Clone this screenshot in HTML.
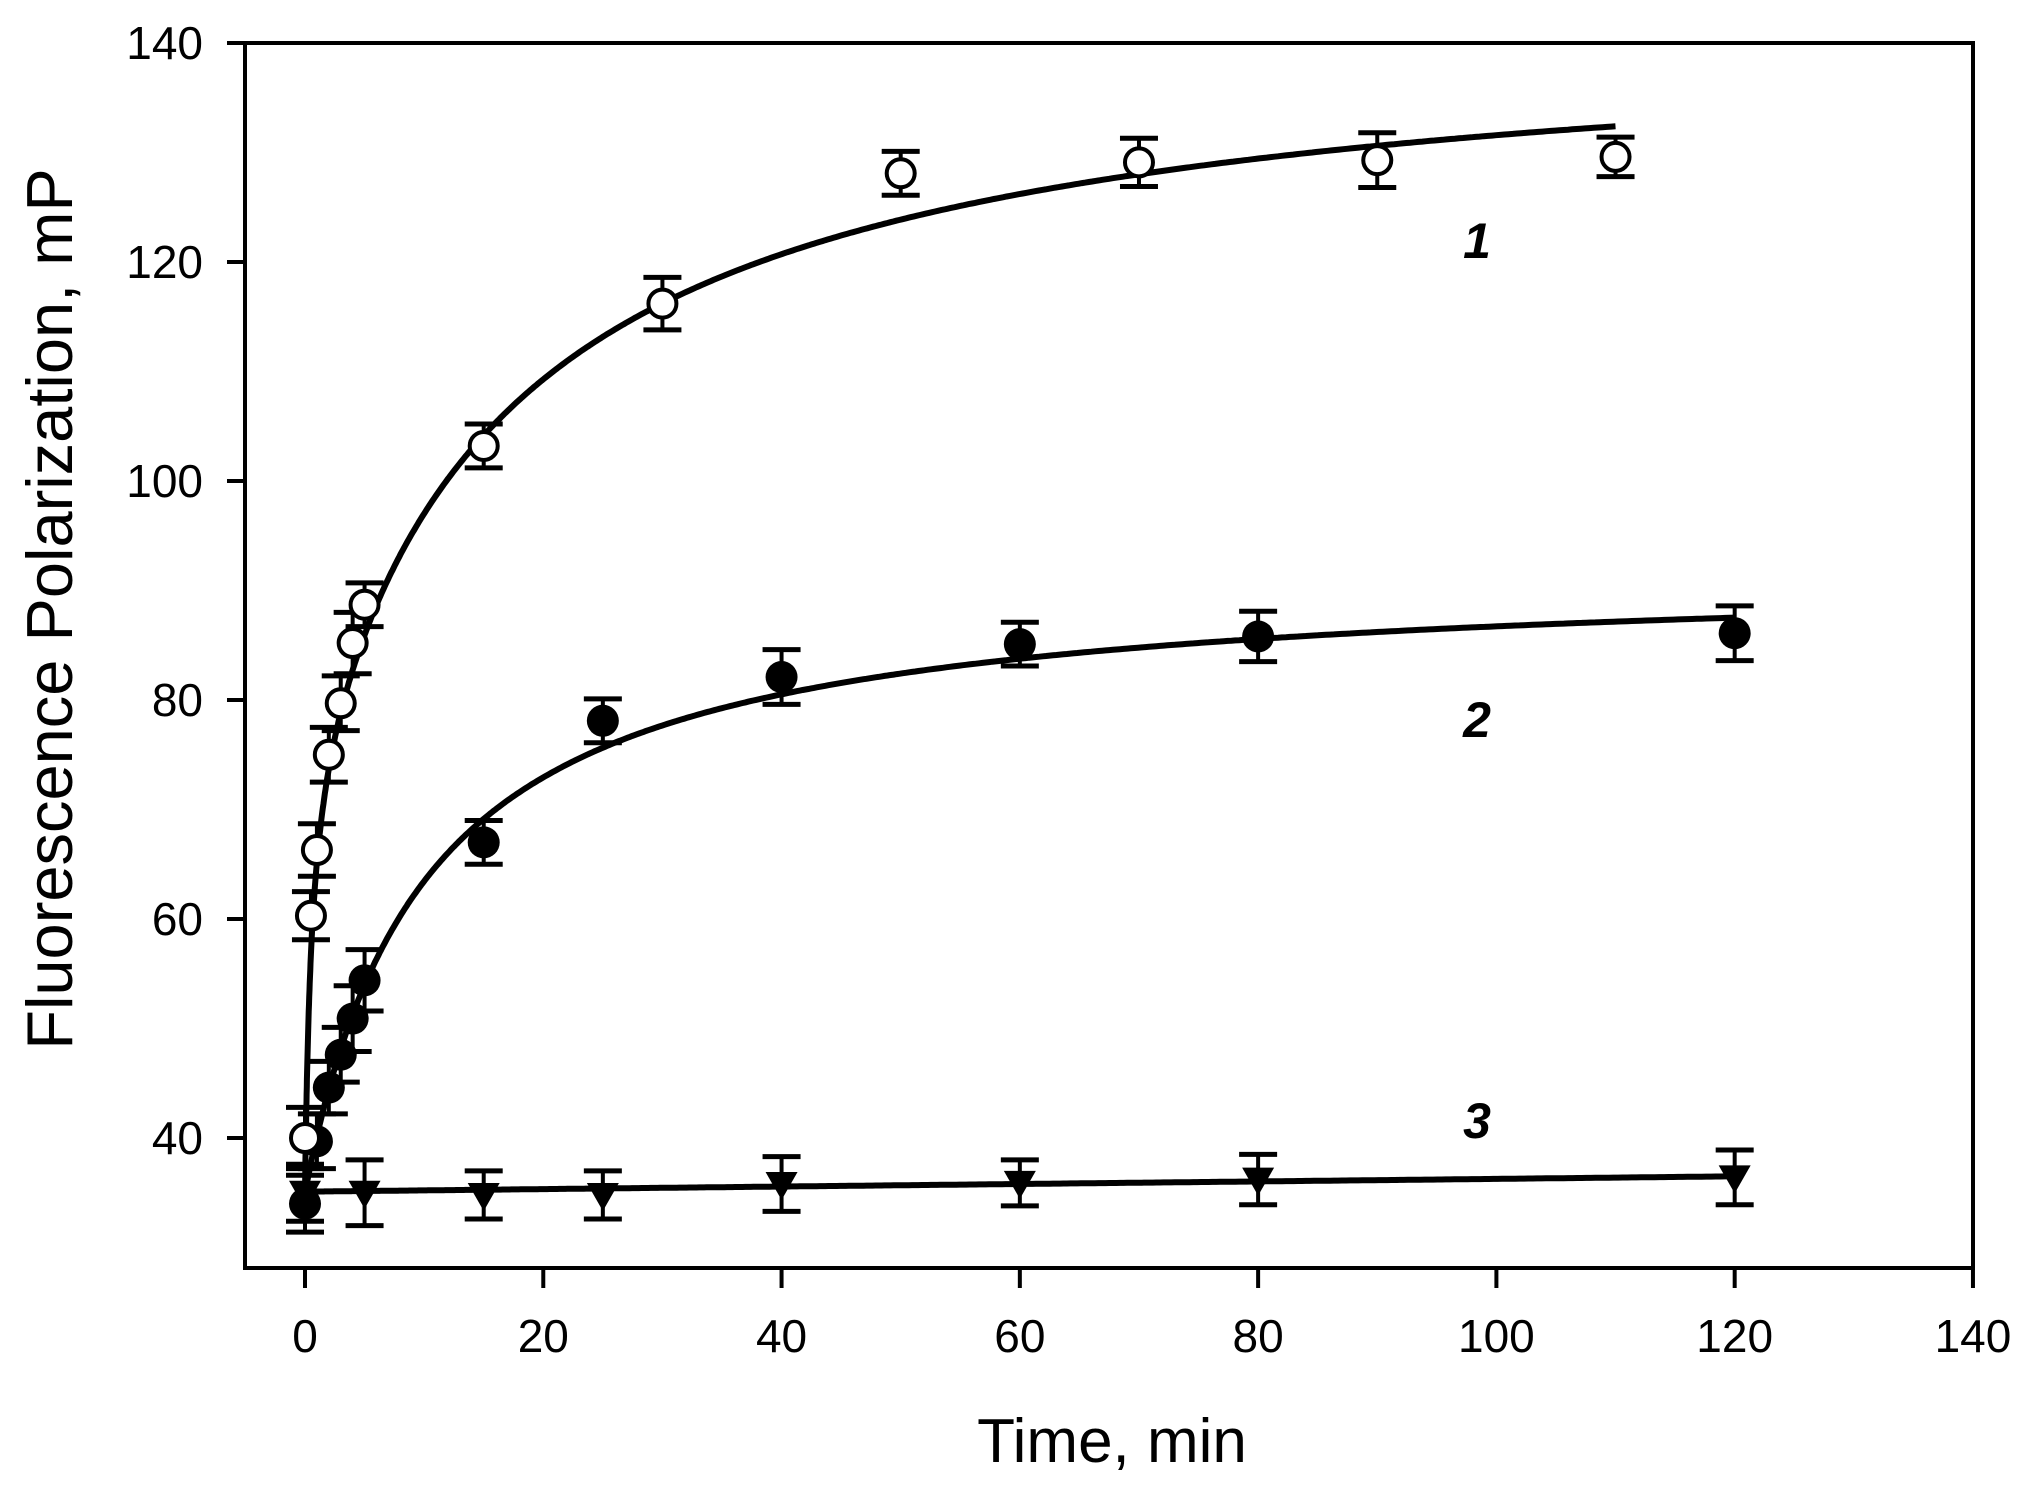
<!DOCTYPE html>
<html><head><meta charset="utf-8">
<style>
html,body{margin:0;padding:0;background:#fff;}
svg{display:block;}
text{font-family:"Liberation Sans",Arial,sans-serif;fill:#000;}
</style></head>
<body>
<svg id="s" width="2036" height="1493" viewBox="0 0 2036 1493" xmlns="http://www.w3.org/2000/svg">
<rect x="0" y="0" width="2036" height="1493" fill="#fff"/>
<g id="axes" stroke="#000" stroke-width="4" fill="none">
<rect x="245" y="43" width="1728" height="1225"/>
</g>
<g id="ticks" stroke="#000" stroke-width="4"></g>
<g id="labels" font-size="46"></g>
<g id="curves" stroke="#000" stroke-width="6" fill="none"></g>
<g id="pts"></g>
<text x="1112" y="1462" font-size="62" text-anchor="middle">Time, min</text>
<text transform="translate(72,609) rotate(-90)" font-size="65" text-anchor="middle">Fluorescence Polarization, mP</text>
<text x="1477" y="258" font-size="50" font-weight="bold" font-style="italic" text-anchor="middle">1</text>
<text x="1477" y="737" font-size="50" font-weight="bold" font-style="italic" text-anchor="middle">2</text>
<text x="1477" y="1138" font-size="50" font-weight="bold" font-style="italic" text-anchor="middle">3</text>
</svg>
<script>
var NS="http://www.w3.org/2000/svg";
function X(t){return 305+11.914*t;}
function Y(v){return 43+(140-v)*10.95;}
function el(p,tag,a){var e=document.createElementNS(NS,tag);for(var k in a)e.setAttribute(k,a[k]);document.getElementById(p).appendChild(e);return e;}
for(var t=0;t<=140;t+=20){
 el("ticks","line",{x1:X(t),y1:1268,x2:X(t),y2:1288});
 var tx=el("labels","text",{x:X(t),y:1352,"text-anchor":"middle"});tx.textContent=t;
}
for(var v=40;v<=140;v+=20){
 el("ticks","line",{x1:227,y1:Y(v),x2:245,y2:Y(v)});
 var ty=el("labels","text",{x:203,y:Y(v)+16,"text-anchor":"end"});ty.textContent=v;
}
function curve(f,t0,t1){var d="";var n=600;for(var i=0;i<=n;i++){var t=t0+(t1-t0)*Math.pow(i/n,2);d+=(i?"L":"M")+X(t).toFixed(1)+","+Y(f(t)).toFixed(1);}el("curves","path",{d:d});}
curve(function(t){return 35+40*t/(0.5+t)+67*t/(18+t);},0,110);
curve(function(t){return 35+56.9*t/(10+t);},0,120);
curve(function(t){return 35.1+1.4*t/120;},0,120);
function eb(t,v,e){var x=X(t);el("pts","line",{x1:x,y1:Y(v+e),x2:x,y2:Y(v-e),stroke:"#000","stroke-width":4});
 el("pts","line",{x1:x-19,y1:Y(v+e),x2:x+19,y2:Y(v+e),stroke:"#000","stroke-width":5});
 el("pts","line",{x1:x-19,y1:Y(v-e),x2:x+19,y2:Y(v-e),stroke:"#000","stroke-width":5});}
var s1=[[0,40,2.8],[0.5,60.3,2.2],[1,66.3,2.4],[2,75,2.5],[3,79.7,2.5],[4,85.2,2.8],[5,88.7,2],[15,103.2,2],[30,116.2,2.4],[50,128.1,2],[70,129.1,2.2],[90,129.3,2.5],[110,129.6,1.8]];
var s2=[[0,34,2.6],[1,39.7,2.5],[2,44.6,2.4],[3,47.6,2.5],[4,50.9,3],[5,54.4,2.8],[15,67,2],[25,78.1,2],[40,82.1,2.5],[60,85.1,2],[80,85.8,2.3],[120,86.1,2.5]];
var s3=[[0,35,2.6],[5,35,3],[15,34.8,2.2],[25,34.8,2.2],[40,35.8,2.5],[60,35.9,2.1],[80,36.2,2.3],[120,36.4,2.5]];
s3.forEach(function(p){eb(p[0],p[1],p[2]);var x=X(p[0]),y=Y(p[1]);el("pts","path",{d:"M"+(x-16)+","+(y-12)+"L"+(x+16)+","+(y-12)+"L"+x+","+(y+16)+"Z",fill:"#000"});});
s2.forEach(function(p){eb(p[0],p[1],p[2]);el("pts","circle",{cx:X(p[0]),cy:Y(p[1]),r:16,fill:"#000"});});
s1.forEach(function(p){eb(p[0],p[1],p[2]);el("pts","circle",{cx:X(p[0]),cy:Y(p[1]),r:14,fill:"#fff",stroke:"#000","stroke-width":4});});
</script>
</body></html>
